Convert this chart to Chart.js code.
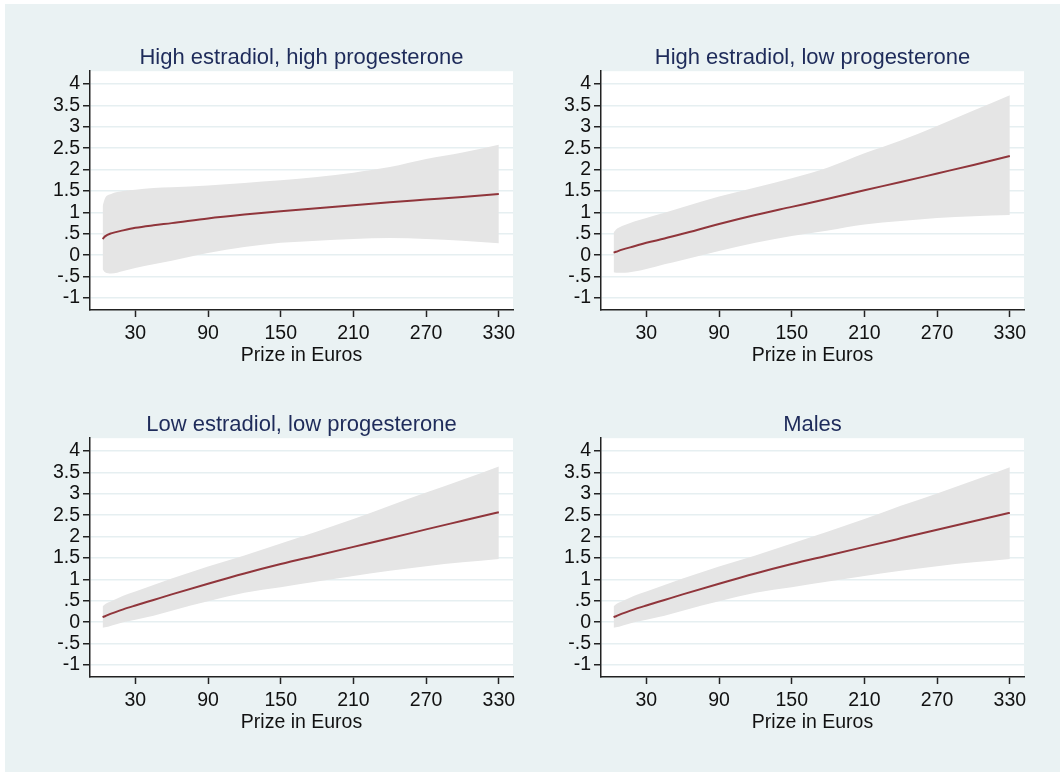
<!DOCTYPE html>
<html>
<head>
<meta charset="utf-8">
<script src="https://cdn.jsdelivr.net/npm/chart.js@4.4.1/dist/chart.umd.min.js"></script>
<style>
    body { margin: 0; background: #ffffff; }
    #bg { position: absolute; left: 5px; top: 4px; width: 1055px; height: 768px; background: #eaf2f3; }
    canvas { position: absolute; }
</style>
</head>
<body>
<div id="bg"></div>
<canvas id="p0" width="530" height="387"></canvas>
<canvas id="p1" width="530" height="387"></canvas>
<canvas id="p2" width="530" height="387"></canvas>
<canvas id="p3" width="530" height="387"></canvas>
<script>
// prize levels (euros) where the predictions were read
const prize = [3, 5, 10, 20, 30, 45, 60, 90, 120, 150, 180, 210, 240, 270, 300, 330];

const xTicks = [30, 90, 150, 210, 270, 330];
const yTicks = [-1, -0.5, 0, 0.5, 1, 1.5, 2, 2.5, 3, 3.5, 4];
const yTickLabels = ['-1', '-.5', '0', '.5', '1', '1.5', '2', '2.5', '3', '3.5', '4'];
const xTitle = 'Prize in Euros';

const panelTitles = [
    'High estradiol, high progesterone',
    'High estradiol, low progesterone',
    'Low estradiol, low progesterone',
    'Males'
];

// High estradiol, high progesterone
const hehpMean  = [0.38, 0.44, 0.51, 0.58, 0.64, 0.70, 0.75, 0.86, 0.95, 1.03, 1.10, 1.17, 1.24, 1.30, 1.36, 1.43];
const hehpUpper = [1.15, 1.33, 1.43, 1.50, 1.53, 1.57, 1.59, 1.63, 1.69, 1.75, 1.83, 1.93, 2.06, 2.25, 2.40, 2.58];
const hehpLower = [-0.33, -0.40, -0.43, -0.37, -0.30, -0.21, -0.13, 0.05, 0.19, 0.29, 0.34, 0.38, 0.40, 0.38, 0.34, 0.28];

// High estradiol, low progesterone
const helpMean  = [0.06, 0.08, 0.13, 0.21, 0.29, 0.39, 0.50, 0.73, 0.94, 1.13, 1.32, 1.52, 1.71, 1.91, 2.11, 2.32];
const helpUpper = [0.53, 0.60, 0.68, 0.79, 0.87, 0.99, 1.12, 1.37, 1.58, 1.80, 2.05, 2.38, 2.68, 3.02, 3.38, 3.74];
const helpLower = [-0.40, -0.41, -0.41, -0.38, -0.32, -0.21, -0.11, 0.10, 0.29, 0.45, 0.58, 0.72, 0.80, 0.87, 0.91, 0.94];

// Low estradiol, low progesterone
const lelpMean  = [0.12, 0.14, 0.20, 0.30, 0.39, 0.52, 0.65, 0.90, 1.14, 1.36, 1.56, 1.76, 1.96, 2.17, 2.37, 2.57];
const lelpUpper = [0.37, 0.42, 0.49, 0.62, 0.72, 0.87, 1.02, 1.30, 1.56, 1.84, 2.12, 2.41, 2.72, 3.03, 3.33, 3.64];
const lelpLower = [-0.13, -0.12, -0.08, 0.00, 0.06, 0.15, 0.27, 0.49, 0.69, 0.82, 0.95, 1.08, 1.20, 1.31, 1.40, 1.48];

// Males
const maleMean  = [0.12, 0.14, 0.20, 0.30, 0.39, 0.52, 0.65, 0.90, 1.14, 1.36, 1.56, 1.76, 1.96, 2.16, 2.36, 2.56];
const maleUpper = [0.37, 0.42, 0.49, 0.62, 0.72, 0.87, 1.02, 1.30, 1.56, 1.84, 2.12, 2.41, 2.72, 3.01, 3.31, 3.62];
const maleLower = [-0.13, -0.12, -0.08, 0.00, 0.06, 0.15, 0.27, 0.49, 0.69, 0.82, 0.95, 1.08, 1.20, 1.31, 1.40, 1.48];

const series = [
    { mean: hehpMean, upper: hehpUpper, lower: hehpLower },
    { mean: helpMean, upper: helpUpper, lower: helpLower },
    { mean: lelpMean, upper: lelpUpper, lower: lelpLower },
    { mean: maleMean, upper: maleUpper, lower: maleLower }
];

// where each panel canvas sits on the page
const placement = [
    { left: 0, top: 0 },
    { left: 511, top: 0 },
    { left: 0, top: 367 },
    { left: 511, top: 367 }
];

Chart.defaults.font.family = '"Liberation Sans", Arial, Helvetica, sans-serif';

const plotBackground = {
    id: 'plotBackground',
    beforeDraw(chart) {
        const { ctx, chartArea: a } = chart;
        ctx.save();
        ctx.fillStyle = '#ffffff';
        ctx.fillRect(a.left, a.top, a.right - a.left, a.bottom - a.top);
        ctx.restore();
    }
};

function toPoints(values) {
    return prize.map((p, i) => ({ x: p, y: values[i] }));
}

function drawPanel(index) {
    const canvas = document.getElementById('p' + index);
    canvas.style.left = placement[index].left + 'px';
    canvas.style.top = placement[index].top + 'px';
    const s = series[index];

    new Chart(canvas.getContext('2d'), {
        type: 'line',
        data: {
            datasets: [{
                data: toPoints(s.upper),
                order: 2,
                borderWidth: 0,
                pointRadius: 0,
                backgroundColor: '#e5e5e5',
                fill: '+1',
                cubicInterpolationMode: 'monotone'
            }, {
                data: toPoints(s.lower),
                order: 3,
                borderWidth: 0,
                pointRadius: 0,
                fill: false,
                cubicInterpolationMode: 'monotone'
            }, {
                data: toPoints(s.mean),
                order: 1,
                borderColor: '#90353b',
                borderWidth: 2,
                pointRadius: 0,
                fill: false,
                cubicInterpolationMode: 'monotone'
            }]
        },
        options: {
            responsive: false,
            animation: false,
            devicePixelRatio: 1,
            layout: { padding: { left: 0, right: 17, top: 0, bottom: 0 } },
            plugins: {
                legend: { display: false },
                tooltip: { enabled: false },
                title: {
                    display: true,
                    text: panelTitles[index],
                    fullSize: false,
                    color: '#1e2b5a',
                    font: { size: 22, weight: 'normal', lineHeight: 1.1 },
                    padding: { top: 46, bottom: 1 }
                }
            },
            scales: {
                x: {
                    type: 'linear',
                    min: -7.4,
                    max: 341.7,
                    afterFit: scale => { scale.height = 77; },
                    afterBuildTicks: scale => { scale.ticks = xTicks.map(v => ({ value: v })); },
                    ticks: {
                        color: '#111111',
                        font: { size: 19.5 },
                        padding: 5,
                        maxRotation: 0,
                        autoSkip: false
                    },
                    grid: {
                        drawOnChartArea: false,
                        tickLength: 7,
                        tickColor: '#222222',
                        tickWidth: 1.5
                    },
                    border: { color: '#222222', width: 1.5 },
                    title: {
                        display: true,
                        text: xTitle,
                        color: '#111111',
                        font: { size: 19.5 },
                        padding: { top: 0, bottom: 20 }
                    }
                },
                y: {
                    min: -1.28,
                    max: 4.30,
                    afterFit: scale => { scale.width = 90; },
                    afterBuildTicks: scale => { scale.ticks = yTicks.map(v => ({ value: v })); },
                    ticks: {
                        color: '#111111',
                        font: { size: 19.5 },
                        padding: 3,
                        autoSkip: false,
                        callback: (value, i) => yTickLabels[i]
                    },
                    grid: {
                        color: '#e6eff1',
                        lineWidth: 1.5,
                        tickLength: 7,
                        tickColor: '#222222',
                        tickWidth: 1.5
                    },
                    border: { color: '#222222', width: 1.5 }
                }
            }
        },
        plugins: [plotBackground]
    });
}

function main() {
    for (let i = 0; i < 4; i++) {
        drawPanel(i);
    }
}

main();
</script>
</body>
</html>
